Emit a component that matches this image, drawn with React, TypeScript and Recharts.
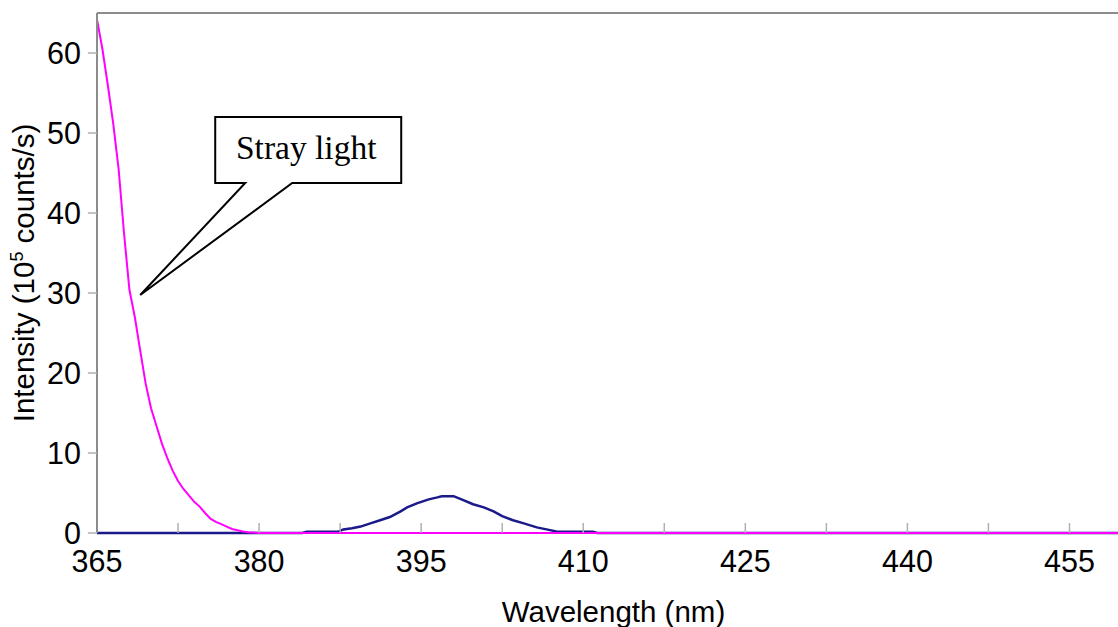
import React from 'react';
import {
  LineChart,
  Line,
  XAxis,
  YAxis,
  CartesianGrid,
  ReferenceDot,
  Label
} from 'recharts';

// wavelength (nm) and intensity (10^5 counts/s)
const strayWavelengths = [
  365, 365.5, 366, 366.5, 367, 367.5, 368, 368.5, 369, 369.5, 370, 370.5, 371, 371.5,
  372, 372.5, 373, 373.5, 374, 374.5, 375, 375.5, 376, 376.5, 377, 377.5, 378, 378.5,
  379, 379.5, 380, 460.6
];
const strayIntensity = [
  64.2, 60.5, 56.0, 51.2, 45.5, 37.5, 30.4, 27.0, 22.8, 18.7, 15.6, 13.4, 11.2, 9.4,
  7.8, 6.5, 5.5, 4.7, 3.9, 3.3, 2.5, 1.8, 1.4, 1.1, 0.8, 0.5, 0.35, 0.2,
  0.1, 0.05, 0, 0
];

const emissionWavelengths = [
  365, 384.0, 384.4, 387.3, 387.8, 388.6, 389.4, 390.3, 391.2, 392.1, 393.1, 393.7,
  394.6, 395.7, 396.5, 396.9, 398.0, 398.9, 399.8, 400.8, 401.7, 402.5, 403.5, 404.5,
  405.7, 406.6, 407.6, 410.9, 411.3, 460.6
];
const emissionIntensity = [
  0, 0, 0.15, 0.15, 0.45, 0.6, 0.8, 1.2, 1.6, 2.0, 2.7, 3.2,
  3.7, 4.2, 4.45, 4.6, 4.6, 4.1, 3.6, 3.2, 2.7, 2.1, 1.6, 1.2,
  0.7, 0.45, 0.15, 0.15, 0, 0
];

const xTicks = [365, 372.5, 380, 387.5, 395, 402.5, 410, 417.5, 425, 432.5, 440, 447.5, 455];
const xLabelled = [365, 380, 395, 410, 425, 440, 455];
const yTicks = [0, 10, 20, 30, 40, 50, 60];

const calloutAt = { wl: 369, value: 29.75 };

const strayData = strayWavelengths.map((wl, i) => ({ wl, value: strayIntensity[i] }));
const emissionData = emissionWavelengths.map((wl, i) => ({ wl, value: emissionIntensity[i] }));

const SANS = "'Liberation Sans', Arial, sans-serif";
const SERIF = "'Liberation Serif', 'Times New Roman', serif";
const AXIS_GREY = '#8c8c8c';

const Callout = (props: any) => {
  const { cx, cy } = props;
  const pts = [
    [75, -178], [261, -178], [261, -112], [152, -112], [0, 0], [105, -112], [75, -112]
  ].map(([dx, dy]) => `${cx + dx},${cy + dy}`).join(' ');
  return (
    <g>
      <polygon points={pts} fill="#fff" stroke="#000" strokeWidth={2} />
      <text x={cx + 166} y={cy - 136} textAnchor="middle" fontFamily={SERIF} fontSize={33.5} fill="#000">
        Stray light
      </text>
    </g>
  );
};

const YTitle = (props: any) => {
  const { viewBox } = props;
  const x = viewBox.x + 34;
  const y = viewBox.y + viewBox.height / 2;
  return (
    <text
      x={x}
      y={y}
      transform={`rotate(-90, ${x}, ${y})`}
      textAnchor="middle"
      fontFamily={SANS}
      fontSize={29.5}
      fill="#000"
    >
      Intensity (10
      <tspan dy={-11} fontSize={18}>5</tspan>
      <tspan dy={11}> counts/s)</tspan>
    </text>
  );
};

const XTitle = (props: any) => {
  const { viewBox } = props;
  return (
    <text
      x={viewBox.x + viewBox.width / 2}
      y={viewBox.y + 89}
      textAnchor="middle"
      fontFamily={SANS}
      fontSize={29.5}
      fill="#000"
    >
      Wavelength (nm)
    </text>
  );
};

// plot frame: bottom axis line and top border, drawn behind the series
const frameLines = ({ offset }: any) => [offset.top, offset.top + offset.height];

export default function App() {
  return (
    <div style={{ position: 'absolute', left: 0, top: 0, width: 1118, height: 627, overflow: 'hidden', background: '#fff' }}>
      <LineChart width={1130} height={627} margin={{ top: 13, right: 0, bottom: 0, left: 0 }}>
        <CartesianGrid
          vertical={false}
          horizontalCoordinatesGenerator={frameLines}
          stroke={AXIS_GREY}
          strokeWidth={2}
        />
        <XAxis
          type="number"
          dataKey="wl"
          domain={[365, 460.6]}
          ticks={xTicks}
          interval={0}
          tickFormatter={(v: number) => (xLabelled.includes(v) ? String(v) : '')}
          height={94}
          tickSize={-10}
          tickMargin={27}
          axisLine={false}
          tickLine={{ stroke: '#b0b0b0', strokeWidth: 1.5 }}
          tick={{ fill: '#000', fontSize: 30.5, fontFamily: SANS }}
        >
          <Label content={<XTitle />} />
        </XAxis>
        <YAxis
          type="number"
          domain={[0, 65]}
          ticks={yTicks}
          interval={0}
          width={97}
          tickSize={9}
          tickMargin={7}
          axisLine={{ stroke: AXIS_GREY, strokeWidth: 2 }}
          tickLine={{ stroke: '#b0b0b0', strokeWidth: 1.5 }}
          tick={{ fill: '#000', fontSize: 30.5, fontFamily: SANS }}
        >
          <Label content={<YTitle />} />
        </YAxis>
        <Line
          data={emissionData}
          dataKey="value"
          type="linear"
          stroke="#1a1a8a"
          strokeWidth={2.5}
          dot={false}
          isAnimationActive={false}
        />
        <Line
          data={strayData}
          dataKey="value"
          type="linear"
          stroke="#ff00ff"
          strokeWidth={2}
          dot={false}
          isAnimationActive={false}
        />
        <ReferenceDot x={calloutAt.wl} y={calloutAt.value} shape={<Callout />} />
      </LineChart>
    </div>
  );
}
